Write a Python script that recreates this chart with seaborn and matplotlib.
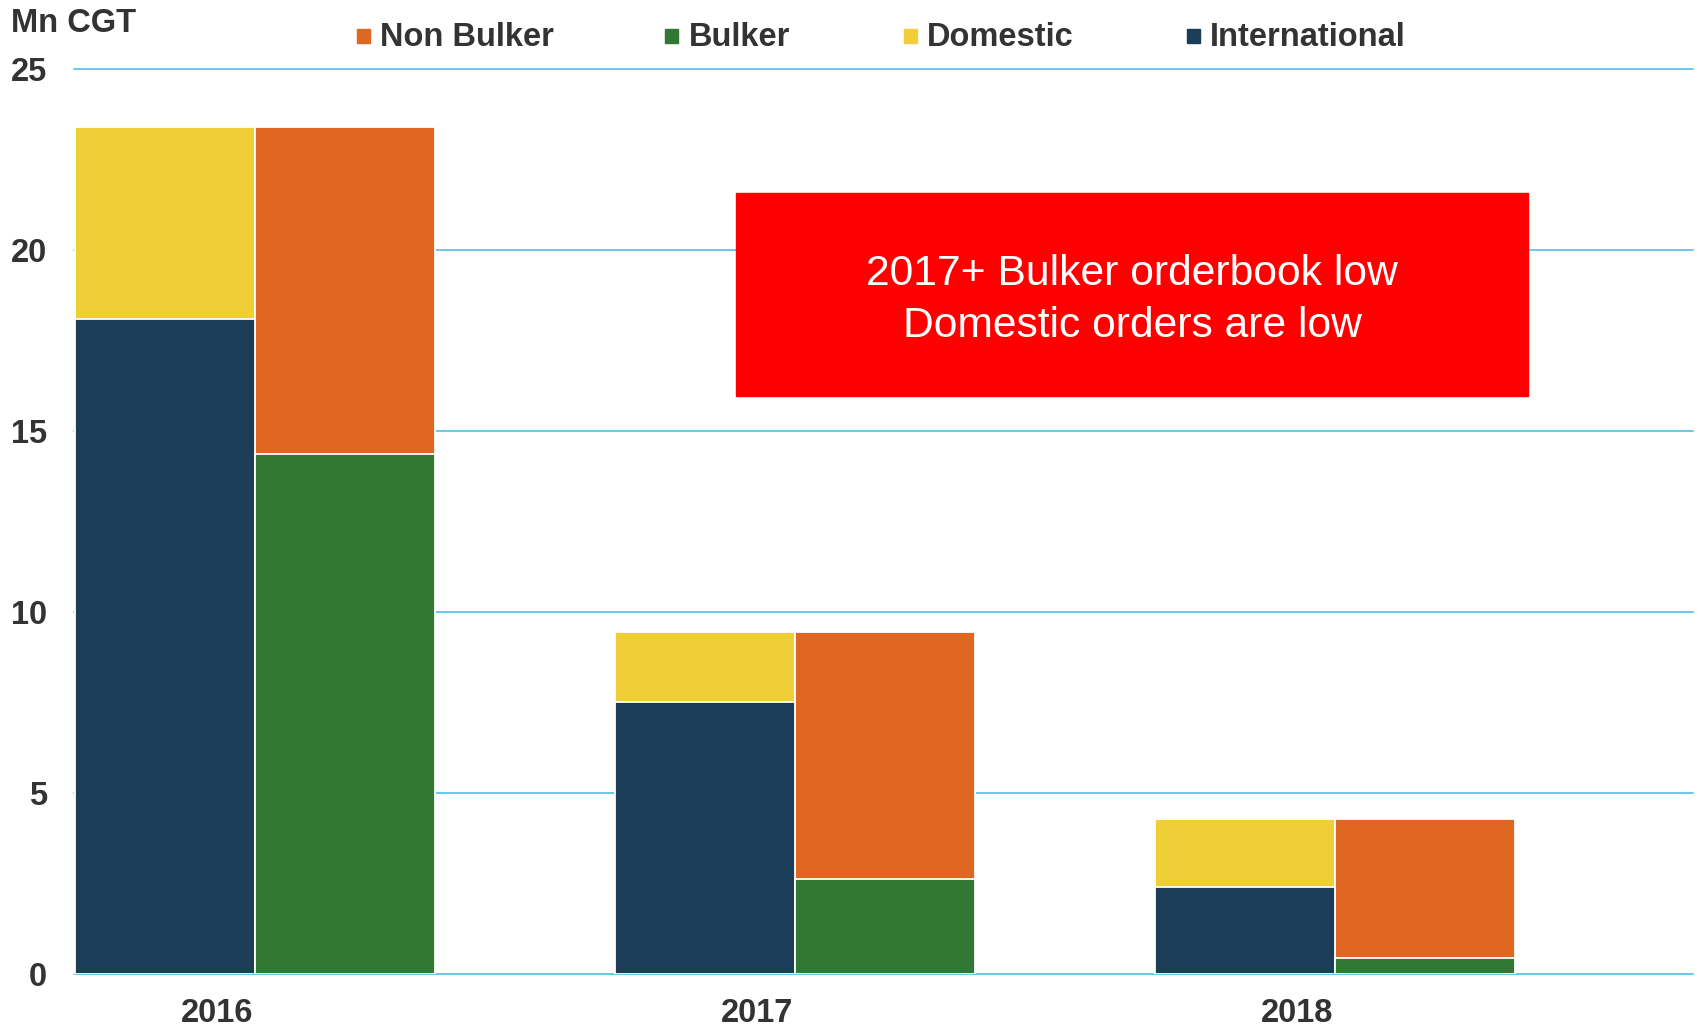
import matplotlib
matplotlib.use("Agg")
import matplotlib.pyplot as plt
from matplotlib.patches import Rectangle
import seaborn as sns
import pandas as pd

# ---- data ----
years = ["2016", "2017", "2018"]
international = [18.1, 7.5, 2.4]
domestic = [5.3, 1.95, 1.88]
bulker = [14.35, 2.6, 0.42]
non_bulker = [9.05, 6.85, 3.86]
legend_order = ["Non Bulker", "Bulker", "Domestic", "International"]
y_ticks = [0, 5, 10, 15, 20, 25]
y_label = "Mn CGT"
note_lines = ["2017+ Bulker orderbook low", "Domestic orders are low"]

colors = {
    "International": "#1B3D58",
    "Domestic": "#F0CF36",
    "Bulker": "#317835",
    "Non Bulker": "#E06722",
}

# ---- layout ----
W, H = 1698, 1030
sns.set_style("white")
plt.rcParams["font.family"] = ["Liberation Sans", "DejaVu Sans"]
text_col = "#333333"

fig = plt.figure(figsize=(W / 100, H / 100), dpi=100)
ax = fig.add_axes([73.6 / W, 1 - 973.5 / H, (1692.6 - 73.6) / W, (973.5 - 69.3) / H])

left_pos = [3 * i for i in range(len(years))]
right_pos = [3 * i + 1 for i in range(len(years))]

top_df = pd.DataFrame({
    "pos": left_pos + right_pos,
    "value": [a + b for a, b in zip(international, domestic)] + [a + b for a, b in zip(bulker, non_bulker)],
    "series": ["Domestic"] * len(years) + ["Non Bulker"] * len(years),
})
bottom_df = pd.DataFrame({
    "pos": left_pos + right_pos,
    "value": international + bulker,
    "series": ["International"] * len(years) + ["Bulker"] * len(years),
})

for df in (top_df, bottom_df):
    sns.barplot(data=df, x="pos", y="value", hue="series", palette=colors,
                native_scale=True, dodge=False, width=1, errorbar=None, saturation=1,
                edgecolor="white", linewidth=1.3, legend=False, ax=ax, zorder=3)

ax.set_xlim(-0.51, 8.49)
ax.set_ylim(0, 25)
ax.set_xlabel("")
ax.set_ylabel("")
ax.set_xticks([p + 0.29 for p in left_pos])
ax.set_xticklabels(years)
ax.set_yticks(y_ticks)
ax.set_yticklabels([str(t) for t in y_ticks])
for lab in ax.get_xticklabels() + ax.get_yticklabels():
    lab.set_fontsize(23.5)
    lab.set_fontweight("bold")
    lab.set_color(text_col)
ax.tick_params(axis="y", length=0, pad=19)
ax.tick_params(axis="x", length=0, pad=18)
for s in ax.spines.values():
    s.set_visible(False)
ax.set_axisbelow(True)
ax.yaxis.grid(True, color="#5BC6E6", linewidth=1.3)
ax.xaxis.grid(False)
for gl in ax.get_ygridlines():
    gl.set_clip_on(False)

# y-axis unit label
fig.text(11 / W, 1 - 32.5 / H, y_label, fontsize=23.5, fontweight="bold",
         color=text_col, ha="left", va="baseline")

# legend
sq_x = [357, 665, 904, 1187]
tx_x = [380, 689, 927, 1210]
for name, sx, tx in zip(legend_order, sq_x, tx_x):
    fig.add_artist(Rectangle((sx / W, 1 - 42.5 / H), 13 / W, 13 / H,
                             transform=fig.transFigure, color=colors[name], zorder=5))
    fig.text(tx / W, 1 - 46.5 / H, name, fontsize=23.5, fontweight="bold",
             color=text_col, ha="left", va="baseline")

# annotation box
fig.add_artist(Rectangle((736 / W, 1 - 396 / H), (1528 - 736) / W, (396 - 193) / H,
                         transform=fig.transFigure, color="#FF0000", zorder=5))
fig.text(1132 / W, 1 - 300 / H, "\n".join(note_lines), fontsize=30.7, color="white",
         ha="center", va="center", multialignment="center", linespacing=1.38, zorder=6)

fig.savefig("out.png", dpi=100)
